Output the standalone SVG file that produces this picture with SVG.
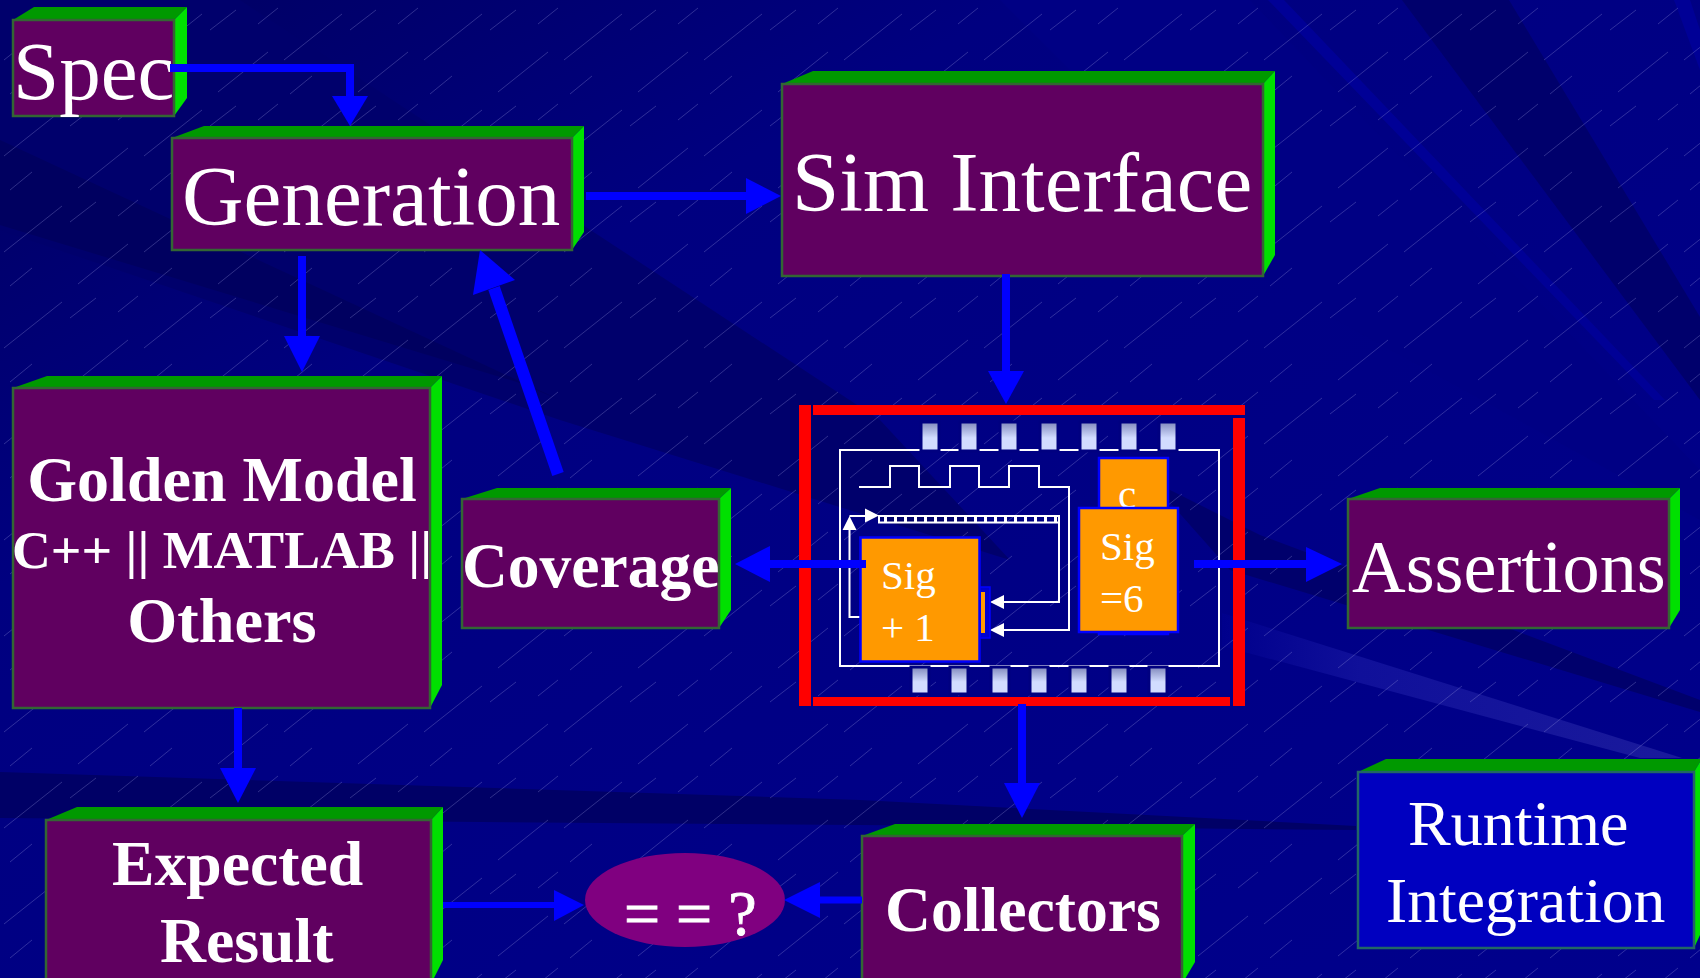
<svg xmlns="http://www.w3.org/2000/svg" width="1700" height="978" viewBox="0 0 1700 978">
<style>
.f{fill:#600060;stroke:#336633;stroke-width:2.5}
.fb{fill:#0000c0;stroke:#226666;stroke-width:2.5}
.t{fill:#009900}
.s{fill:#00e000}
text{font-family:"Liberation Serif","Times New Roman",serif;fill:#fff}
.b{font-weight:700}
.ln{fill:none;stroke:#00f;stroke-width:8}
.ah{fill:#00f}
.w{fill:none;stroke:#fff;stroke-width:2}
.wa{fill:#fff}
.or{fill:#f90;stroke:#00f;stroke-width:2.5}
.pin{fill:url(#pg);stroke:#000080;stroke-width:3}
.red{fill:#f00}
</style>
<defs>
<linearGradient id="bg" x1="0" y1="0" x2="1" y2="1"><stop offset="0" stop-color="#000060"/><stop offset=".3" stop-color="#000080"/><stop offset="1" stop-color="#00008c"/></linearGradient>
<linearGradient id="pg" x1="0" y1="0" x2="0" y2="1"><stop offset="0" stop-color="#8088bc"/><stop offset=".55" stop-color="#d2dcff"/><stop offset="1" stop-color="#d2dcff"/></linearGradient>
<linearGradient id="wedge" x1="0" y1="0" x2="1" y2="0"><stop offset="0" stop-color="#00008c"/><stop offset=".3" stop-color="#10109a"/><stop offset="1" stop-color="#1a1a9c"/></linearGradient>
<pattern id="h" width="140" height="96" patternUnits="userSpaceOnUse">
<g stroke="#9a9ae0" stroke-width="1" stroke-opacity=".3" fill="none">
<path d="M4 60L62 14M78 92L128 52M70 30L96 10M10 94L32 76M118 24L138 8"/>
</g>
</pattern>
</defs>
<g id="background">
<rect width="1700" height="978" fill="url(#bg)"/>
<path d="M0 0H240L880 420 1010 560 560 420 0 230Z" fill="#00006c"/>
<path d="M0 140L560 400 520 383 0 225Z" fill="#000060"/>
<path d="M1402 0H1509L1700 317V400Z" fill="#00006c"/>
<path d="M1268 0H1284L1665 400H1654Z" fill="#000096"/>
<path d="M1674 0H1690L1700 30V70Z" fill="#000096"/>
<path d="M1000 0H1250L1700 470V520L1300 300Z" fill="#000084"/>
<path d="M1150 480L1260 535 1700 700V712L1230 570Z" fill="#00006c"/>
<path d="M1222 613L1682 758H1640L1222 646Z" fill="url(#wedge)"/>
<path d="M0 772L860 800 1356 826V830L860 825 0 818Z" fill="#000066"/>
<rect width="1700" height="978" fill="url(#h)"/>
</g>
<g id="spec">
<path class="t" d="M13 20L34 7H187L174 20Z"/><path class="s" d="M174 20L187 7V98L174 116Z"/>
<rect class="f" x="13" y="20" width="161" height="96"/>
<text x="13" y="99" font-size="83">Spec</text>
</g>
<g id="generation">
<path class="t" d="M172 138L204 126H584L572 138Z"/><path class="s" d="M572 138L584 126V232L572 250Z"/>
<rect class="f" x="172" y="138" width="400" height="112"/>
<text x="182" y="225" font-size="85.200">Generation</text>
</g>
<g id="sim-interface">
<path class="t" d="M782 84L813 71H1275L1263 84Z"/><path class="s" d="M1263 84L1275 71V255L1263 276Z"/>
<rect class="f" x="782" y="84" width="481" height="192"/>
<text x="792" y="211" font-size="85">Sim Interface</text>
</g>
<g id="golden-model">
<path class="t" d="M13 388L47 376H442L430 388Z"/><path class="s" d="M430 388L442 376V685L430 708Z"/>
<rect class="f" x="13" y="388" width="417" height="320"/>
<text class="b" x="222" y="501" font-size="64" text-anchor="middle">Golden Model</text>
<text class="b" x="222" y="568" font-size="53.800" text-anchor="middle">C++ || MATLAB ||</text>
<text class="b" x="222" y="642" font-size="64.300" text-anchor="middle">Others</text>
</g>
<g id="coverage">
<path class="t" d="M462 499L497 488H731L719 499Z"/><path class="s" d="M719 499L731 488V610L719 628Z"/>
<rect class="f" x="462" y="499" width="257" height="129"/>
<text class="b" x="462" y="587" font-size="63.500">Coverage</text>
</g>
<g id="assertions">
<path class="t" d="M1348 499L1380 488H1680L1669 499Z"/><path class="s" d="M1669 499L1680 488V610L1669 628Z"/>
<rect class="f" x="1348" y="499" width="321" height="129"/>
<text x="1352" y="592" font-size="74.300">Assertions</text>
</g>
<g id="runtime-integration">
<path class="t" d="M1358 772L1386 759H1700V762L1694 772Z"/><path class="s" d="M1694 772L1700 762V935L1694 948Z"/>
<rect class="fb" x="1358" y="772" width="336" height="176"/>
<text x="1408" y="845" font-size="64">Runtime</text>
<text x="1386" y="922" font-size="63.700">Integration</text>
</g>
<g id="collectors">
<path class="t" d="M862 836L895 824H1195L1182 836Z"/><path class="s" d="M1182 836L1195 824V962L1182 984Z"/>
<rect class="f" x="862" y="836" width="320" height="150"/>
<text class="b" x="885" y="931" font-size="63.700">Collectors</text>
</g>
<g id="expected-result">
<path class="t" d="M46 820L77 807H443L431 820Z"/><path class="s" d="M431 820L443 807V960L431 984Z"/>
<rect class="f" x="46" y="820" width="385" height="165"/>
<text class="b" x="112" y="885" font-size="63.700">Expected</text>
<text class="b" x="160" y="962" font-size="63.700">Result</text>
</g>
<g id="compare">
<ellipse cx="685" cy="900" rx="100" ry="47" fill="#800080"/>
<text x="624" y="935" font-size="64" stroke="#fff" stroke-width=".8">= = ?</text>
</g>
<g id="chip">
<rect class="red" x="813" y="405" width="432" height="10"/>
<rect class="red" x="799" y="405" width="12" height="301"/>
<rect class="red" x="1233" y="418" width="12" height="288"/>
<rect class="red" x="813" y="697" width="417" height="9"/>
<rect class="w" x="840" y="450" width="379" height="216"/>
<g id="pins">
<rect class="pin" x="921" y="422" width="18" height="29"/><rect class="pin" x="960" y="422" width="18" height="29"/><rect class="pin" x="1000" y="422" width="18" height="29"/><rect class="pin" x="1040" y="422" width="18" height="29"/><rect class="pin" x="1080" y="422" width="18" height="29"/><rect class="pin" x="1120" y="422" width="18" height="29"/><rect class="pin" x="1159" y="422" width="18" height="29"/>
<rect class="pin" x="911" y="667" width="18" height="27"/><rect class="pin" x="950" y="667" width="18" height="27"/><rect class="pin" x="991" y="667" width="18" height="27"/><rect class="pin" x="1030" y="667" width="18" height="27"/><rect class="pin" x="1070" y="667" width="18" height="27"/><rect class="pin" x="1110" y="667" width="18" height="27"/><rect class="pin" x="1149" y="667" width="18" height="27"/>
</g>
<path class="w" d="M859 487H890V466H919V487H950V466H979V487H1009V466H1039V487H1069V630H1003"/>
<path class="wa" d="M990 630L1004 623V637Z"/>
<rect class="w" x="879" y="516" width="180" height="6.500"/>
<path d="M879 519.500H1059" fill="none" stroke="#fff" stroke-width="7" stroke-dasharray="3 7" stroke-dashoffset="-5"/>
<path class="w" d="M1059 522V602H1003"/>
<path class="wa" d="M990 602L1004 595V609Z"/>
<path class="w" d="M860 617H849.500V529M849.500 516H866"/>
<path class="wa" d="M849.500 516L856.500 530H842.500ZM879 515.500L865 508.500V522.500Z"/>
<rect x="979" y="587" width="11" height="51" fill="#0000d0" stroke="#00f" stroke-width="1.500"/>
<rect x="981" y="592" width="4" height="41" fill="#f90"/>
<rect class="or" x="860.500" y="537.500" width="119" height="124"/>
<text x="881" y="589" font-size="41">Sig</text>
<text x="881" y="641" font-size="41">+ 1</text>
<rect class="or" x="1099" y="458" width="69" height="176"/>
<text x="1118" y="508" font-size="41">c</text>
<rect class="or" x="1079" y="508" width="99" height="124"/>
<text x="1100" y="560" font-size="41">Sig</text>
<text x="1100" y="612" font-size="41">=6</text>
</g>
<g id="connectors">
<path class="ln" d="M170 68H350V96"/><path class="ah" d="M332 96H368L350 126Z"/>
<path class="ln" d="M586 196H748"/><path class="ah" d="M746 178L781 196 746 214Z"/>
<path class="ln" d="M302 256V338"/><path class="ah" d="M284 336H320L302 372Z"/>
<path class="ln" d="M558 474L494 288" style="stroke-width:12"/><path class="ah" d="M480 250L515 280 473 295Z"/>
<path class="ln" d="M1006 274V373"/><path class="ah" d="M988 371H1024L1006 404Z"/>
<path class="ln" d="M866 564H768"/><path class="ah" d="M770 546V582L735 564Z"/>
<path class="ln" d="M1194 564H1308"/><path class="ah" d="M1306 547V582L1342 564Z"/>
<path class="ln" d="M238 708V770"/><path class="ah" d="M220 768H256L238 803Z"/>
<path class="ln" d="M1022 704V785"/><path class="ah" d="M1004 783H1040L1022 818Z"/>
<path class="ln" d="M443 905H556" style="stroke-width:6"/><path class="ah" d="M554 890V921L584 905Z"/>
<path class="ln" d="M862 900H818" style="stroke-width:7"/><path class="ah" d="M820 882V918L784 900Z"/>
</g>
</svg>
